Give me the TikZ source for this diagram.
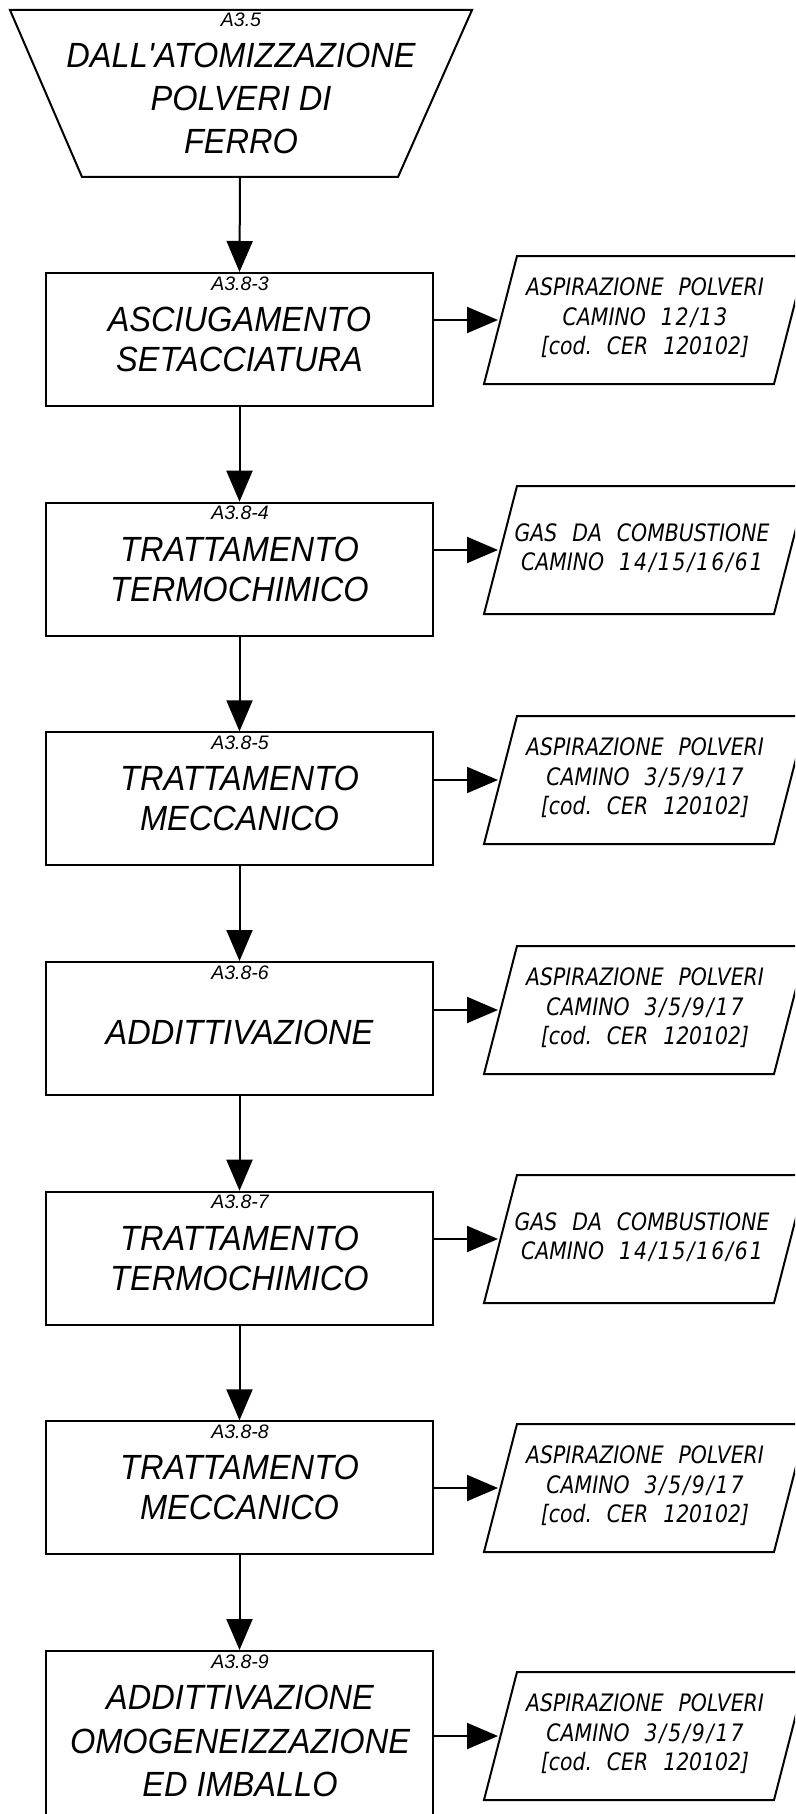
\documentclass[tikz,border=0pt]{standalone}
\usepackage{fontspec}
\setmainfont{Liberation Sans}
\newfontfamily\mainfont{Liberation Sans}[FakeStretch=0.93]
\newfontfamily\cadfont{DejaVu Sans}[FakeStretch=0.85]
\usetikzlibrary{arrows.meta}
\newcommand{\gp}{\hspace{15pt}}
\newcommand{\dg}[1]{{\addfontfeature{LetterSpace=8}#1}}
\tikzset{
 procbox/.style={draw, line width=2pt, minimum width=387pt, minimum height=133pt, inner sep=0pt},
 flow/.style={line width=2pt, -{Triangle[length=31pt,width=26pt]}},
 lbl/.style={font=\fontsize{19.5}{21}\selectfont\itshape, anchor=base, inner sep=0pt},
 maintxt/.style={font=\mainfont\fontsize{35}{40}\selectfont\itshape, align=center, inner sep=0pt},
 cad/.style={font=\cadfont\fontsize{24}{29.5}\selectfont\itshape, align=center, inner sep=0pt},
 shp/.style={draw, line width=2pt, line join=miter},
}
\begin{document}
\begin{tikzpicture}[x=1pt,y=-1pt]
\useasboundingbox (0,0) rectangle (795,1814);
\clip (0,0) rectangle (795,1814);

% source trapezoid
\draw[shp] (10,10) -- (472,10) -- (398,177) -- (82,177) -- cycle;
\node[lbl] (l0) at (241,27) {A3.5};
\node[maintxt, anchor=north, font=\mainfont\fontsize{35}{43}\selectfont\itshape] (t0) at (241,43) {DALL\textquotesingle ATOMIZZAZIONE\\POLVERI DI\\FERRO};
\coordinate (src) at (240,177);

% process boxes
\node[procbox] (b1) at (239.5,339.5) {};
\node[procbox] (b2) at (239.5,569.2) {};
\node[procbox] (b3) at (239.5,798.8) {};
\node[procbox] (b4) at (239.5,1028.5) {};
\node[procbox] (b5) at (239.5,1258.2) {};
\node[procbox] (b6) at (239.5,1487.8) {};
\node[procbox, minimum height=200pt] (b7) at (239.5,1751) {};

\node[lbl] (l1) at (240,290) {A3.8-3};
\node[lbl] (l2) at (240,519.7) {A3.8-4};
\node[lbl] (l3) at (240,749.3) {A3.8-5};
\node[lbl] (l4) at (240,979) {A3.8-6};
\node[lbl] (l5) at (240,1208.7) {A3.8-7};
\node[lbl] (l6) at (240,1438.3) {A3.8-8};
\node[lbl] (l7) at (240,1668) {A3.8-9};

\node[maintxt] (m1) at (b1) {ASCIUGAMENTO\\SETACCIATURA};
\node[maintxt] (m2) at (b2) {TRATTAMENTO\\TERMOCHIMICO};
\node[maintxt] (m3) at (b3) {TRATTAMENTO\\MECCANICO};
\node[maintxt] (m4) at ([yshift=-4pt]b4.center) {ADDITTIVAZIONE};
\node[maintxt] (m5) at (b5) {TRATTAMENTO\\TERMOCHIMICO};
\node[maintxt] (m6) at (b6) {TRATTAMENTO\\MECCANICO};
\node[maintxt, anchor=north, font=\mainfont\fontsize{35}{43.5}\selectfont\itshape] (m7) at (240,1685) {ADDITTIVAZIONE\\OMOGENEIZZAZIONE\\ED IMBALLO};

% vertical flow
\draw[flow] (src) -- (b1.north);
\draw[flow] (b1) -- (b2);
\draw[flow] (b2) -- (b3);
\draw[flow] (b3) -- (b4);
\draw[flow] (b4) -- (b5);
\draw[flow] (b5) -- (b6);
\draw[flow] (b6) -- (b7);

% emission parallelograms
\foreach \m/\i in {320/1,550/2,780/3,1010/4,1239/5,1488/6,1736/7}{
  \draw[shp] (484,\m+64) -- (517,\m-64) -- (807,\m-64) -- (774,\m+64) -- cycle;
  \coordinate (p\i) at (498,\m);
}
\node[cad] (e1) at (645,318) {ASPIRAZIONE\gp POLVERI\\CAMINO\gp\dg{12/13}\\[0pt][cod.\gp CER\gp 120102]};
\node[cad] (e2) at (642,548) {GAS\gp DA\gp COMBUSTIONE\\CAMINO\gp\dg{14/15/16/61}};
\node[cad] (e3) at (645,778) {ASPIRAZIONE\gp POLVERI\\CAMINO\gp\dg{3/5/9/17}\\[0pt][cod.\gp CER\gp 120102]};
\node[cad] (e4) at (645,1008) {ASPIRAZIONE\gp POLVERI\\CAMINO\gp\dg{3/5/9/17}\\[0pt][cod.\gp CER\gp 120102]};
\node[cad] (e5) at (642,1237) {GAS\gp DA\gp COMBUSTIONE\\CAMINO\gp\dg{14/15/16/61}};
\node[cad] (e6) at (645,1486) {ASPIRAZIONE\gp POLVERI\\CAMINO\gp\dg{3/5/9/17}\\[0pt][cod.\gp CER\gp 120102]};
\node[cad] (e7) at (645,1734) {ASPIRAZIONE\gp POLVERI\\CAMINO\gp\dg{3/5/9/17}\\[0pt][cod.\gp CER\gp 120102]};

% emission arrows
\draw[flow] (b1.east |- p1) -- (p1);
\draw[flow] (b2.east |- p2) -- (p2);
\draw[flow] (b3.east |- p3) -- (p3);
\draw[flow] (b4.east |- p4) -- (p4);
\draw[flow] (b5.east |- p5) -- (p5);
\draw[flow] (b6.east |- p6) -- (p6);
\draw[flow] (b7.east |- p7) -- (p7);
\end{tikzpicture}
\end{document}
